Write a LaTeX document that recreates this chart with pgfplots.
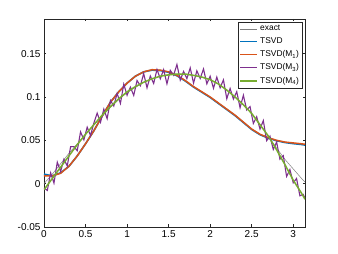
\documentclass[border=0pt]{standalone}
\usepackage{fontspec}
\setmainfont{Liberation Sans}
\usepackage{pgfplots}
\pgfplotsset{compat=1.18}
\definecolor{mblue}{rgb}{0,0.447,0.741}
\definecolor{morange}{rgb}{0.85,0.325,0.098}
\definecolor{mpurple}{rgb}{0.494,0.184,0.556}
\definecolor{mgreen}{rgb}{0.466,0.674,0.188}
\definecolor{maxis}{rgb}{0.15,0.15,0.15}
\begin{document}
\begin{tikzpicture}
\begin{axis}[
  scale only axis, width=261pt, height=208pt,
  xmin=0, xmax=3.14159, ymin=-0.05, ymax=0.19,
  xtick={0,0.5,1,1.5,2,2.5,3},
  xticklabels={0,0.5,1,1.5,2,2.5,3},
  ytick={-0.05,0,0.05,0.1,0.15},
  yticklabels={-0.05,0,0.05,0.1,0.15},
  tick align=inside, xtick pos=both, ytick pos=both,
  major tick length=2.5pt,
  axis line style={draw=maxis, line width=0.5pt},
  tick style={draw=maxis, line width=0.5pt},
  ticklabel style={font=\fontsize{10}{12}\selectfont, text=black},
  legend cell align=left,
  legend style={at={(0.99,0.985)}, anchor=north east, draw=maxis,
    font=\fontsize{8.4}{9}\selectfont, inner sep=1.2pt, row sep=1.5pt, fill=white},
]
% exact
\addplot[color=gray, line width=0.5pt] coordinates {
(0,0.000) (0.1,0.011) (0.2,0.023) (0.3,0.035) (0.4,0.046) (0.5,0.057) (0.6,0.068)
(0.7,0.078) (0.8,0.088) (0.9,0.097) (1.0,0.105) (1.1,0.111) (1.2,0.117) (1.3,0.121)
(1.4,0.124) (1.5,0.126) (1.6,0.1265) (1.7,0.126) (1.8,0.125) (1.9,0.123) (2.0,0.120)
(2.1,0.115) (2.2,0.108) (2.3,0.100) (2.4,0.091) (2.5,0.081) (2.6,0.068) (2.7,0.055)
(2.8,0.041) (2.9,0.028) (3.0,0.017) (3.1,0.006) (3.14159,0.002)};
\addlegendentry{exact}
% TSVD
\addplot[color=mblue, line width=1.6pt] coordinates {
(0,0.011) (0.1,0.009) (0.2,0.0125) (0.3,0.020) (0.4,0.032) (0.5,0.046) (0.6,0.061)
(0.7,0.078) (0.8,0.094) (0.9,0.106) (1.0,0.116) (1.1,0.124) (1.2,0.129) (1.3,0.131)
(1.4,0.1305) (1.5,0.1285) (1.6,0.1245) (1.7,0.1185) (1.8,0.1115) (1.9,0.1055) (2.0,0.0995)
(2.1,0.0925) (2.2,0.0855) (2.3,0.0785) (2.4,0.0705) (2.5,0.0625) (2.6,0.0565) (2.7,0.0525)
(2.8,0.0495) (2.9,0.0475) (3.0,0.0462) (3.1,0.0452) (3.14159,0.0445)};
\addlegendentry{TSVD}
% TSVD(M1)
\addplot[color=morange, line width=1.5pt] coordinates {
(0,0.009) (0.1,0.009) (0.2,0.012) (0.3,0.020) (0.4,0.032) (0.5,0.046) (0.6,0.061)
(0.7,0.078) (0.8,0.094) (0.9,0.106) (1.0,0.116) (1.1,0.124) (1.2,0.129) (1.3,0.1315)
(1.4,0.131) (1.5,0.129) (1.6,0.125) (1.7,0.119) (1.8,0.112) (1.9,0.106) (2.0,0.100)
(2.1,0.093) (2.2,0.086) (2.3,0.079) (2.4,0.071) (2.5,0.063) (2.6,0.057) (2.7,0.053)
(2.8,0.050) (2.9,0.048) (3.0,0.047) (3.1,0.046) (3.14159,0.0455)};
\addlegendentry{TSVD(M\textsubscript{1})}
% TSVD(M3)
\addplot[color=mpurple, line width=1.1pt] coordinates {
(0.00,-0.005) (0.04,-0.0078) (0.08,0.0124) (0.12,0.0006) (0.16,0.0248) (0.20,0.014)
(0.24,0.0282) (0.28,0.0204) (0.32,0.0426) (0.36,0.0428) (0.40,0.038) (0.44,0.0598)
(0.48,0.0506) (0.52,0.0652) (0.56,0.0556) (0.60,0.070) (0.64,0.0814) (0.68,0.0708)
(0.72,0.086) (0.76,0.075) (0.80,0.096) (0.84,0.0896) (0.88,0.1042) (0.92,0.0926)
(0.96,0.1148) (1.00,0.102) (1.04,0.1114) (1.08,0.1018) (1.12,0.119) (1.16,0.113)
(1.20,0.127) (1.24,0.1106) (1.28,0.1242) (1.32,0.1156) (1.36,0.1318) (1.40,0.121)
(1.44,0.1316) (1.48,0.1152) (1.52,0.1307) (1.56,0.1251) (1.60,0.1375) (1.64,0.1195)
(1.68,0.1295) (1.72,0.1212) (1.76,0.1336) (1.80,0.116) (1.84,0.1302) (1.88,0.1214)
(1.92,0.1324) (1.96,0.1152) (2.00,0.124) (2.04,0.110) (2.08,0.123) (2.12,0.1106)
(2.16,0.1198) (2.20,0.098) (2.24,0.1098) (2.28,0.0976) (2.32,0.1062) (2.36,0.0876)
(2.40,0.102) (2.44,0.085) (2.48,0.089) (2.52,0.0694) (2.56,0.0772) (2.60,0.063)
(2.64,0.0728) (2.68,0.0496) (2.72,0.0548) (2.76,0.0394) (2.80,0.048) (2.84,0.0282)
(2.88,0.0324) (2.92,0.0084) (2.96,0.0162) (3.00,0.001) (3.04,0.006) (3.08,-0.014)
(3.12,-0.0124) (3.14159,-0.017)};
\addlegendentry{TSVD(M\textsubscript{3})}
% TSVD(M4)
\addplot[color=mgreen, line width=1.5pt] coordinates {
(0,-0.007) (0.1,0.006) (0.2,0.019) (0.3,0.032) (0.4,0.045) (0.5,0.057) (0.6,0.068)
(0.7,0.079) (0.8,0.089) (0.9,0.098) (1.0,0.106) (1.1,0.112) (1.2,0.117) (1.3,0.121)
(1.4,0.124) (1.5,0.1255) (1.6,0.1265) (1.7,0.1265) (1.8,0.125) (1.9,0.123) (2.0,0.120)
(2.1,0.115) (2.2,0.108) (2.3,0.100) (2.4,0.091) (2.5,0.081) (2.6,0.068) (2.7,0.055)
(2.8,0.039) (2.9,0.022) (3.0,0.004) (3.1,-0.011) (3.14159,-0.018)};
\addlegendentry{TSVD(M\textsubscript{4})}
\end{axis}
\path (-44pt,-27pt) rectangle (294pt,227pt);
\end{tikzpicture}
\end{document}
